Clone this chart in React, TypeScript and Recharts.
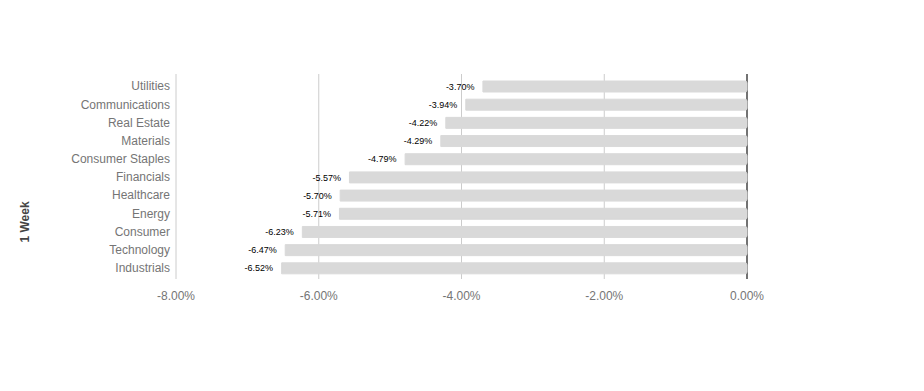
import React from 'react'
import { BarChart, Bar, XAxis, YAxis, CartesianGrid, ReferenceLine, LabelList } from 'recharts'

document.body.style.margin = '0'

const sectors = [
  'Utilities',
  'Communications',
  'Real Estate',
  'Materials',
  'Consumer Staples',
  'Financials',
  'Healthcare',
  'Energy',
  'Consumer',
  'Technology',
  'Industrials',
]
const weekChange = [-3.7, -3.94, -4.22, -4.29, -4.79, -5.57, -5.7, -5.71, -6.23, -6.47, -6.52]
const xTicks = [-8, -6, -4, -2, 0]

const font = 'Arial, "Liberation Sans", sans-serif'
const barColor = '#d9d9d9'
const pct = (v: number) => `${v.toFixed(2)}%`

// value label sits just left of the bar's start
function ValueLabel(props: any) {
  const { x, y, width, height, value } = props
  const left = Math.min(x, x + width)
  return (
    <text x={left - 8.5} y={y + height / 2} dy="0.35em" textAnchor="end" fontSize={9} fill="#000" fontFamily={font}>
      {pct(value)}
    </text>
  )
}

export default function App() {
  const data = sectors.map((name, i) => ({ name, value: weekChange[i] }))

  return (
    <div style={{ width: 924, height: 391, position: 'relative', fontFamily: font }}>
      <BarChart
        width={924}
        height={391}
        data={data}
        layout="vertical"
        margin={{ top: 74, right: 177, bottom: 82, left: 0 }}
      >
        <CartesianGrid horizontal={false} stroke="#cccccc" />
        <XAxis
          type="number"
          domain={[-8, 0]}
          ticks={xTicks}
          tickFormatter={pct}
          axisLine={false}
          tickLine={false}
          tickMargin={6}
          height={30}
          tick={{ fontSize: 12, fill: '#757575', fontFamily: font }}
        />
        <YAxis
          type="category"
          dataKey="name"
          width={176}
          axisLine={false}
          tickLine={false}
          tickMargin={0}
          padding={{ top: 3, bottom: 2 }}
          tick={{ fontSize: 12, fill: '#757575', fontFamily: font }}
          interval={0}
        />
        {/* zero line goes under the bars, so it only shows in the gaps */}
        <ReferenceLine x={0} stroke="#000" strokeWidth={1} zIndex={-50} />
        <Bar
          dataKey="value"
          fill={barColor}
          stroke={barColor}
          strokeWidth={1}
          barSize={11}
          radius={[2, 0, 0, 2]}
          isAnimationActive={false}
        >
          <LabelList dataKey="value" content={ValueLabel} />
        </Bar>
      </BarChart>
      <div
        style={{
          position: 'absolute',
          left: 25,
          top: 222,
          transform: 'translate(-50%, -50%) rotate(-90deg)',
          fontSize: 12,
          fontWeight: 'bold',
          color: '#444',
          whiteSpace: 'nowrap',
        }}
      >
        1 Week
      </div>
    </div>
  )
}
